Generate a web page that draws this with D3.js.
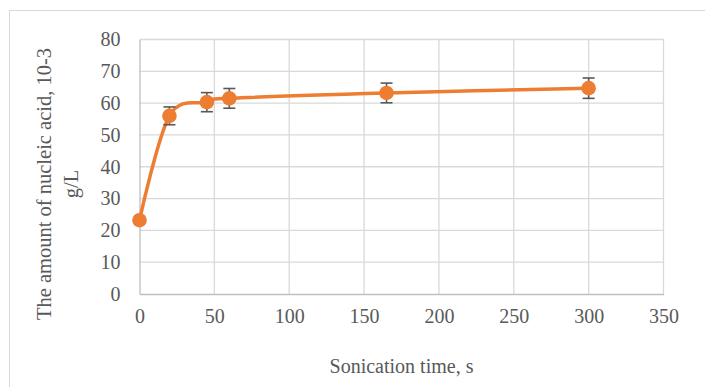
<!DOCTYPE html>
<html>
<head>
<meta charset="utf-8">
<script src="https://cdn.jsdelivr.net/npm/d3@7"></script>
<style>
html,body{margin:0;padding:0;background:#fff;}
svg{display:block;}
</style>
</head>
<body>
<script>
const times = [0, 20, 45, 60, 165, 300];
const amounts = [23.2, 56.0, 60.3, 61.5, 63.2, 64.7];
const errors = [0, 2.8, 3.0, 3.1, 3.1, 3.2];
const xTicks = [0, 50, 100, 150, 200, 250, 300, 350];
const yTicks = [0, 10, 20, 30, 40, 50, 60, 70, 80];
const xTitle = "Sonication time, s";
const yTitleLines = ["The amount of nucleic acid, 10-3", "g/L"];

const W = 705, H = 387;
const svg = d3.select("body").append("svg").attr("width", W).attr("height", H);
const font = "'Liberation Serif', 'Times New Roman', serif";
const textColor = "#595959";

svg.append("rect").attr("x", 9.5).attr("y", 10.5).attr("width", 720).attr("height", 420)
  .attr("fill", "#fff").attr("stroke", "#d9d9d9").attr("stroke-width", 1);

const x = d3.scaleLinear().domain([0, 350]).range([139.5, 663.5]);
const y = d3.scaleLinear().domain([0, 80]).range([294, 39.5]);

// gridlines
svg.append("g").selectAll("line.h").data(yTicks.filter(d => d > 0)).join("line")
  .attr("x1", x(0)).attr("x2", x(350)).attr("y1", d => y(d)).attr("y2", d => y(d))
  .attr("stroke", "#d9d9d9").attr("stroke-width", 1.3);
svg.append("g").selectAll("line.v").data(xTicks.filter(d => d > 0)).join("line")
  .attr("y1", y(0)).attr("y2", y(80)).attr("x1", d => x(d)).attr("x2", d => x(d))
  .attr("stroke", "#d9d9d9").attr("stroke-width", 1.3);

// axes
const xAxis = svg.append("g").attr("transform", `translate(0,${y(0)})`)
  .call(d3.axisBottom(x).tickValues(xTicks).tickSize(0).tickPadding(15));
const yAxis = svg.append("g").attr("transform", `translate(${x(0)},0)`)
  .call(d3.axisLeft(y).tickValues(yTicks).tickSize(0).tickPadding(19));
[xAxis, yAxis].forEach(a => {
  a.attr("font-family", null).attr("font-size", null);
  a.select(".domain").attr("stroke", "#bfbfbf").attr("stroke-width", 1.3);
  a.selectAll("text").style("font-family", font).style("font-size", "20px").attr("fill", textColor);
});

// line (Excel-style smoothed line)
const line = d3.line().x((d, i) => x(times[i])).y((d, i) => y(amounts[i])).curve(d3.curveCardinal.tension(0));
svg.append("path").datum(amounts).attr("d", line)
  .attr("fill", "none").attr("stroke", "#ED7D31").attr("stroke-width", 3.5).attr("stroke-linecap", "round");

// error bars
const eb = svg.append("g").attr("stroke", "#595959").attr("stroke-width", 1.6);
times.forEach((t, i) => {
  if (!errors[i]) return;
  const cx = x(t), y1 = y(amounts[i] + errors[i]), y2 = y(amounts[i] - errors[i]);
  eb.append("line").attr("x1", cx).attr("x2", cx).attr("y1", y1).attr("y2", y2);
  eb.append("line").attr("x1", cx - 6).attr("x2", cx + 6).attr("y1", y1).attr("y2", y1);
  eb.append("line").attr("x1", cx - 6).attr("x2", cx + 6).attr("y1", y2).attr("y2", y2);
});

// markers
svg.append("g").selectAll("circle").data(amounts).join("circle")
  .attr("cx", (d, i) => x(times[i])).attr("cy", d => y(d)).attr("r", 7.3)
  .attr("fill", "#ED7D31");

// titles
svg.append("text").attr("x", (x(0) + x(350)) / 2).attr("y", 373)
  .attr("text-anchor", "middle").style("font-family", font).style("font-size", "20px")
  .attr("fill", textColor).text(xTitle);

const yt = svg.append("text").attr("transform", "translate(0,184) rotate(-90)")
  .attr("text-anchor", "middle").style("font-family", font).style("font-size", "20.5px").attr("fill", textColor);
yt.append("tspan").attr("x", 0).attr("y", 51).text(yTitleLines[0]);
yt.append("tspan").attr("x", 0).attr("y", 78).text(yTitleLines[1]);
</script>
</body>
</html>
